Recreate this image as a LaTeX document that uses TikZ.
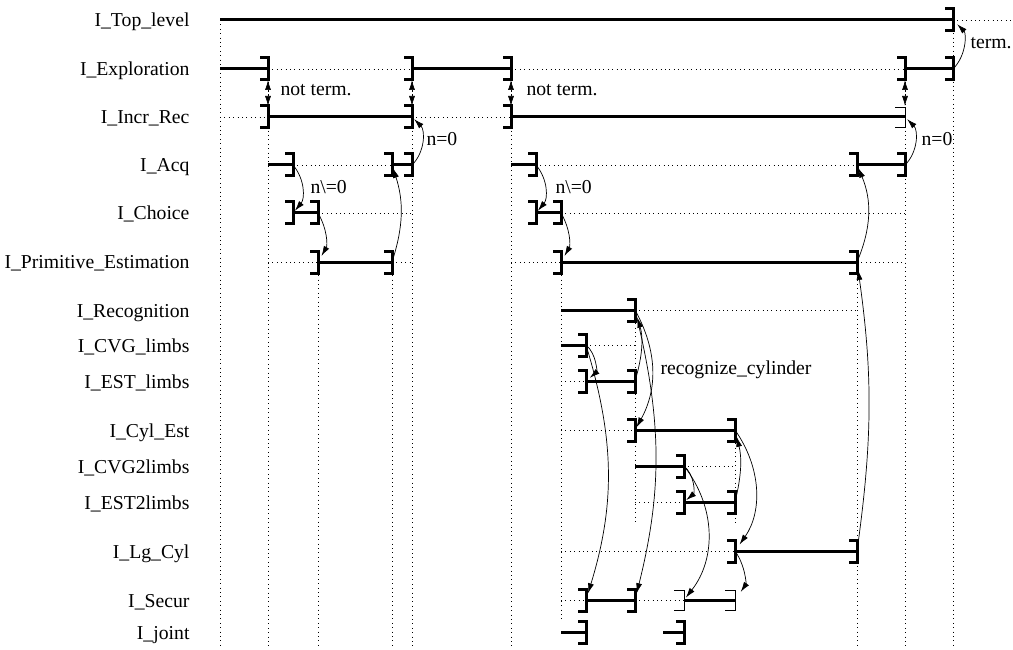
\documentclass[tikz,border=0pt]{standalone}
\usepackage{fontspec}
\setmainfont{Liberation Serif}
\usetikzlibrary{arrows.meta}
\tikzset{
    task/.style={line width=3pt},
    idle/.style={line width=0.8pt, dash pattern=on 0.8pt off 3.6pt},
    flow/.style={-{Latex[length=10pt,width=6pt]}, line width=0.7pt, shorten >=3pt},
    both/.style={{Latex[length=10pt,width=6pt]}-{Latex[length=10pt,width=6pt]}, line width=0.7pt, dash pattern=on 0.8pt off 3.6pt, shorten <=11pt, shorten >=11pt},
    rowname/.style={anchor=base east, font=\fontsize{19.7}{22}\selectfont},
    note/.style={anchor=base west, font=\fontsize{19.7}{22}\selectfont},
    bracket/.pic={\draw[line width=3pt] (-8,-11) -- (0,-11) -- (0,11) -- (-8,11);},
    thin bracket/.pic={\draw[line width=0.8pt] (-10,-10) -- (0,-10) -- (0,10) -- (-10,10);}
}

\begin{document}
\begin{tikzpicture}[x=1pt, y=-1pt]
    \useasboundingbox (0,0) rectangle (1013,650);

    % event points, one per row and column
    \foreach \r/\y in {top/20, expl/69, incr/117, acq/165, choice/213, prim/262, recog/310, cvg/345, est/381, cyl/430, cvgb/466, estb/502, lg/551, secur/600, joint/632, low/525, stop/620, bot/648}
        \foreach \c/\x in {S/220, A/268, B/293, C/318, D/392, E/412, F/511, G/536, H/561, K/586, L/635, J/663, M/684, N/735, P/857, Q/905, R/953, Z/1013}
            \coordinate (\r-\c) at (\x,\y);

    % process names
    \foreach \r/\y/\t in {top/20/I\_Top\_level, expl/69/I\_Exploration, incr/117/I\_Incr\_Rec, acq/165/I\_Acq, choice/213/I\_Choice, prim/262/I\_Primitive\_Estimation, recog/310/I\_Recognition, cvg/345/I\_CVG\_limbs, est/381/I\_EST\_limbs, cyl/430/I\_Cyl\_Est, cvgb/466/I\_CVG2limbs, estb/502/I\_EST2limbs, lg/551/I\_Lg\_Cyl, secur/600/I\_Secur, joint/632/I\_joint}
        \node[rowname] (name-\r) at (193,\y+7) {\t};

    % lifelines
    \draw[idle] (top-S) -- (bot-S);
    \draw[idle] (expl-A) -- (bot-A);
    \draw[idle] (prim-C) -- (bot-C);
    \draw[idle] (prim-D) -- (bot-D);
    \draw[idle] (expl-E) -- (bot-E);
    \draw[idle] (expl-F) -- (bot-F);
    \draw[idle] (prim-H) -- (stop-H);
    \draw[idle] (recog-L) -- (low-L);
    \draw[idle] (cyl-N) -- (low-N);
    \draw[idle] (prim-P) -- (bot-P);
    \draw[idle] (expl-Q) -- (bot-Q);
    \draw[idle] (top-R) -- (bot-R);

    % I_Top_level
    \draw[task] (top-S) -- (top-R);
    \draw[idle] (top-R) -- (top-Z);
    \pic at (top-R) {bracket};

    % I_Exploration
    \draw[task] (expl-S) -- (expl-A);
    \draw[idle] (expl-A) -- (expl-E);
    \draw[task] (expl-E) -- (expl-F);
    \draw[idle] (expl-F) -- (expl-Q);
    \draw[task] (expl-Q) -- (expl-R);
    \foreach \c in {A,E,F,Q,R} \pic at (expl-\c) {bracket};

    % I_Incr_Rec
    \draw[idle] (incr-S) -- (incr-A);
    \draw[task] (incr-A) -- (incr-E);
    \draw[idle] (incr-E) -- (incr-F);
    \draw[task] (incr-F) -- (incr-Q);
    \foreach \c in {A,E,F} \pic at (incr-\c) {bracket};
    \pic at (incr-Q) {thin bracket};

    % I_Acq
    \draw[task] (acq-A) -- (acq-B);
    \draw[idle] (acq-B) -- (acq-D);
    \draw[task] (acq-D) -- (acq-E);
    \draw[task] (acq-F) -- (acq-G);
    \draw[idle] (acq-G) -- (acq-P);
    \draw[task] (acq-P) -- (acq-Q);
    \foreach \c in {B,D,E,G,P,Q} \pic at (acq-\c) {bracket};

    % I_Choice
    \draw[task] (choice-B) -- (choice-C);
    \draw[idle] (choice-C) -- (choice-E);
    \draw[task] (choice-G) -- (choice-H);
    \draw[idle] (choice-H) -- (choice-Q);
    \foreach \c in {B,C,G,H} \pic at (choice-\c) {bracket};

    % I_Primitive_Estimation
    \draw[idle] (prim-A) -- (prim-C);
    \draw[task] (prim-C) -- (prim-D);
    \draw[idle] (prim-D) -- (prim-E);
    \draw[idle] (prim-F) -- (prim-H);
    \draw[task] (prim-H) -- (prim-P);
    \draw[idle] (prim-P) -- (prim-Q);
    \foreach \c in {C,D,H,P} \pic at (prim-\c) {bracket};

    % I_Recognition
    \draw[task] (recog-H) -- (recog-L);
    \draw[idle] (recog-L) -- (recog-P);
    \pic at (recog-L) {bracket};

    % I_CVG_limbs
    \draw[task] (cvg-H) -- (cvg-K);
    \draw[idle] (cvg-K) -- (cvg-L);
    \pic at (cvg-K) {bracket};

    % I_EST_limbs
    \draw[idle] (est-H) -- (est-K);
    \draw[task] (est-K) -- (est-L);
    \foreach \c in {K,L} \pic at (est-\c) {bracket};

    % I_Cyl_Est
    \draw[idle] (cyl-H) -- (cyl-L);
    \draw[task] (cyl-L) -- (cyl-N);
    \foreach \c in {L,N} \pic at (cyl-\c) {bracket};

    % I_CVG2limbs
    \draw[task] (cvgb-L) -- (cvgb-M);
    \draw[idle] (cvgb-M) -- (cvgb-N);
    \pic at (cvgb-M) {bracket};

    % I_EST2limbs
    \draw[idle] (estb-L) -- (estb-M);
    \draw[task] (estb-M) -- (estb-N);
    \foreach \c in {M,N} \pic at (estb-\c) {bracket};

    % I_Lg_Cyl
    \draw[idle] (lg-H) -- (lg-N);
    \draw[task] (lg-N) -- (lg-P);
    \foreach \c in {N,P} \pic at (lg-\c) {bracket};

    % I_Secur
    \draw[idle] (secur-H) -- (secur-K);
    \draw[task] (secur-K) -- (secur-L);
    \draw[idle] (secur-L) -- (secur-M);
    \draw[task] (secur-M) -- (secur-N);
    \foreach \c in {K,L} \pic at (secur-\c) {bracket};
    \foreach \c in {M,N} \pic at (secur-\c) {thin bracket};

    % I_joint
    \draw[task] (joint-H) -- (joint-K);
    \draw[task] (joint-J) -- (joint-M);
    \foreach \c in {K,M} \pic at (joint-\c) {bracket};

    % calls and returns
    \draw[both] (expl-A) -- (incr-A);
    \draw[both] (expl-E) -- (incr-E);
    \draw[both] (expl-F) -- (incr-F);
    \draw[both] (expl-Q) -- (incr-Q);
    \node[note] (nt1) at (277,96) {not term.};
    \node[note] (nt2) at (523,96) {not term.};

    \draw[flow, shorten >=6pt] (expl-R) to[bend right=45] (top-R);
    \node[note] (term) at (967,49) {term.};

    \draw[flow] (acq-E) to[bend right=45] (incr-E);
    \node[note] (nz1) at (423,146) {n=0};
    \draw[flow] (acq-Q) to[bend right=45] (incr-Q);
    \node[note] (nz2) at (918,146) {n=0};

    \draw[flow] (acq-B) to[bend left=40] (choice-B);
    \node[note] (nn1) at (307,194) {n\textbackslash=0};
    \draw[flow, shorten >=7pt] (choice-C) to[bend left=30] (prim-C);
    \draw[flow] (prim-D) to[bend right=18] (acq-D);

    \draw[flow] (acq-G) to[bend left=40] (choice-G);
    \node[note] (nn2) at (552,194) {n\textbackslash=0};
    \draw[flow, shorten >=7pt] (choice-H) to[bend left=30] (prim-H);
    \draw[flow] (prim-P) to[bend right=23] (acq-P);

    \draw[flow, shorten >=8pt] (lg-P) to[bend right=8] (prim-P);

    % recognize_cylinder
    \draw[flow, shorten >=5pt] (cvg-K) to[bend left=50] (est-K);
    \draw[flow, shorten >=8pt] (est-L) to[bend right=17] (recog-L);
    \draw[flow] (recog-L) to[bend left=29] (cyl-L);
    \draw[flow, shorten >=7pt] (recog-L) to[bend left=14] (secur-L);
    \draw[flow, shorten >=7pt] (cvg-K) to[bend left=17] (secur-K);
    \node[note] (rc) at (657,374) {recognize\_cylinder};

    \draw[flow] (cvgb-M) to[bend left=50] (estb-M);
    \draw[flow, shorten >=7pt] (estb-N) to[bend right=14] (cyl-N);
    \draw[flow, shorten >=8pt] (cyl-N) to[bend left=35] (lg-N);
    \draw[flow] (cvgb-M) to[bend left=38] (secur-M);
    \draw[flow, shorten >=10pt] (lg-N) to[bend left=35] (secur-N);
\end{tikzpicture}
\end{document}
